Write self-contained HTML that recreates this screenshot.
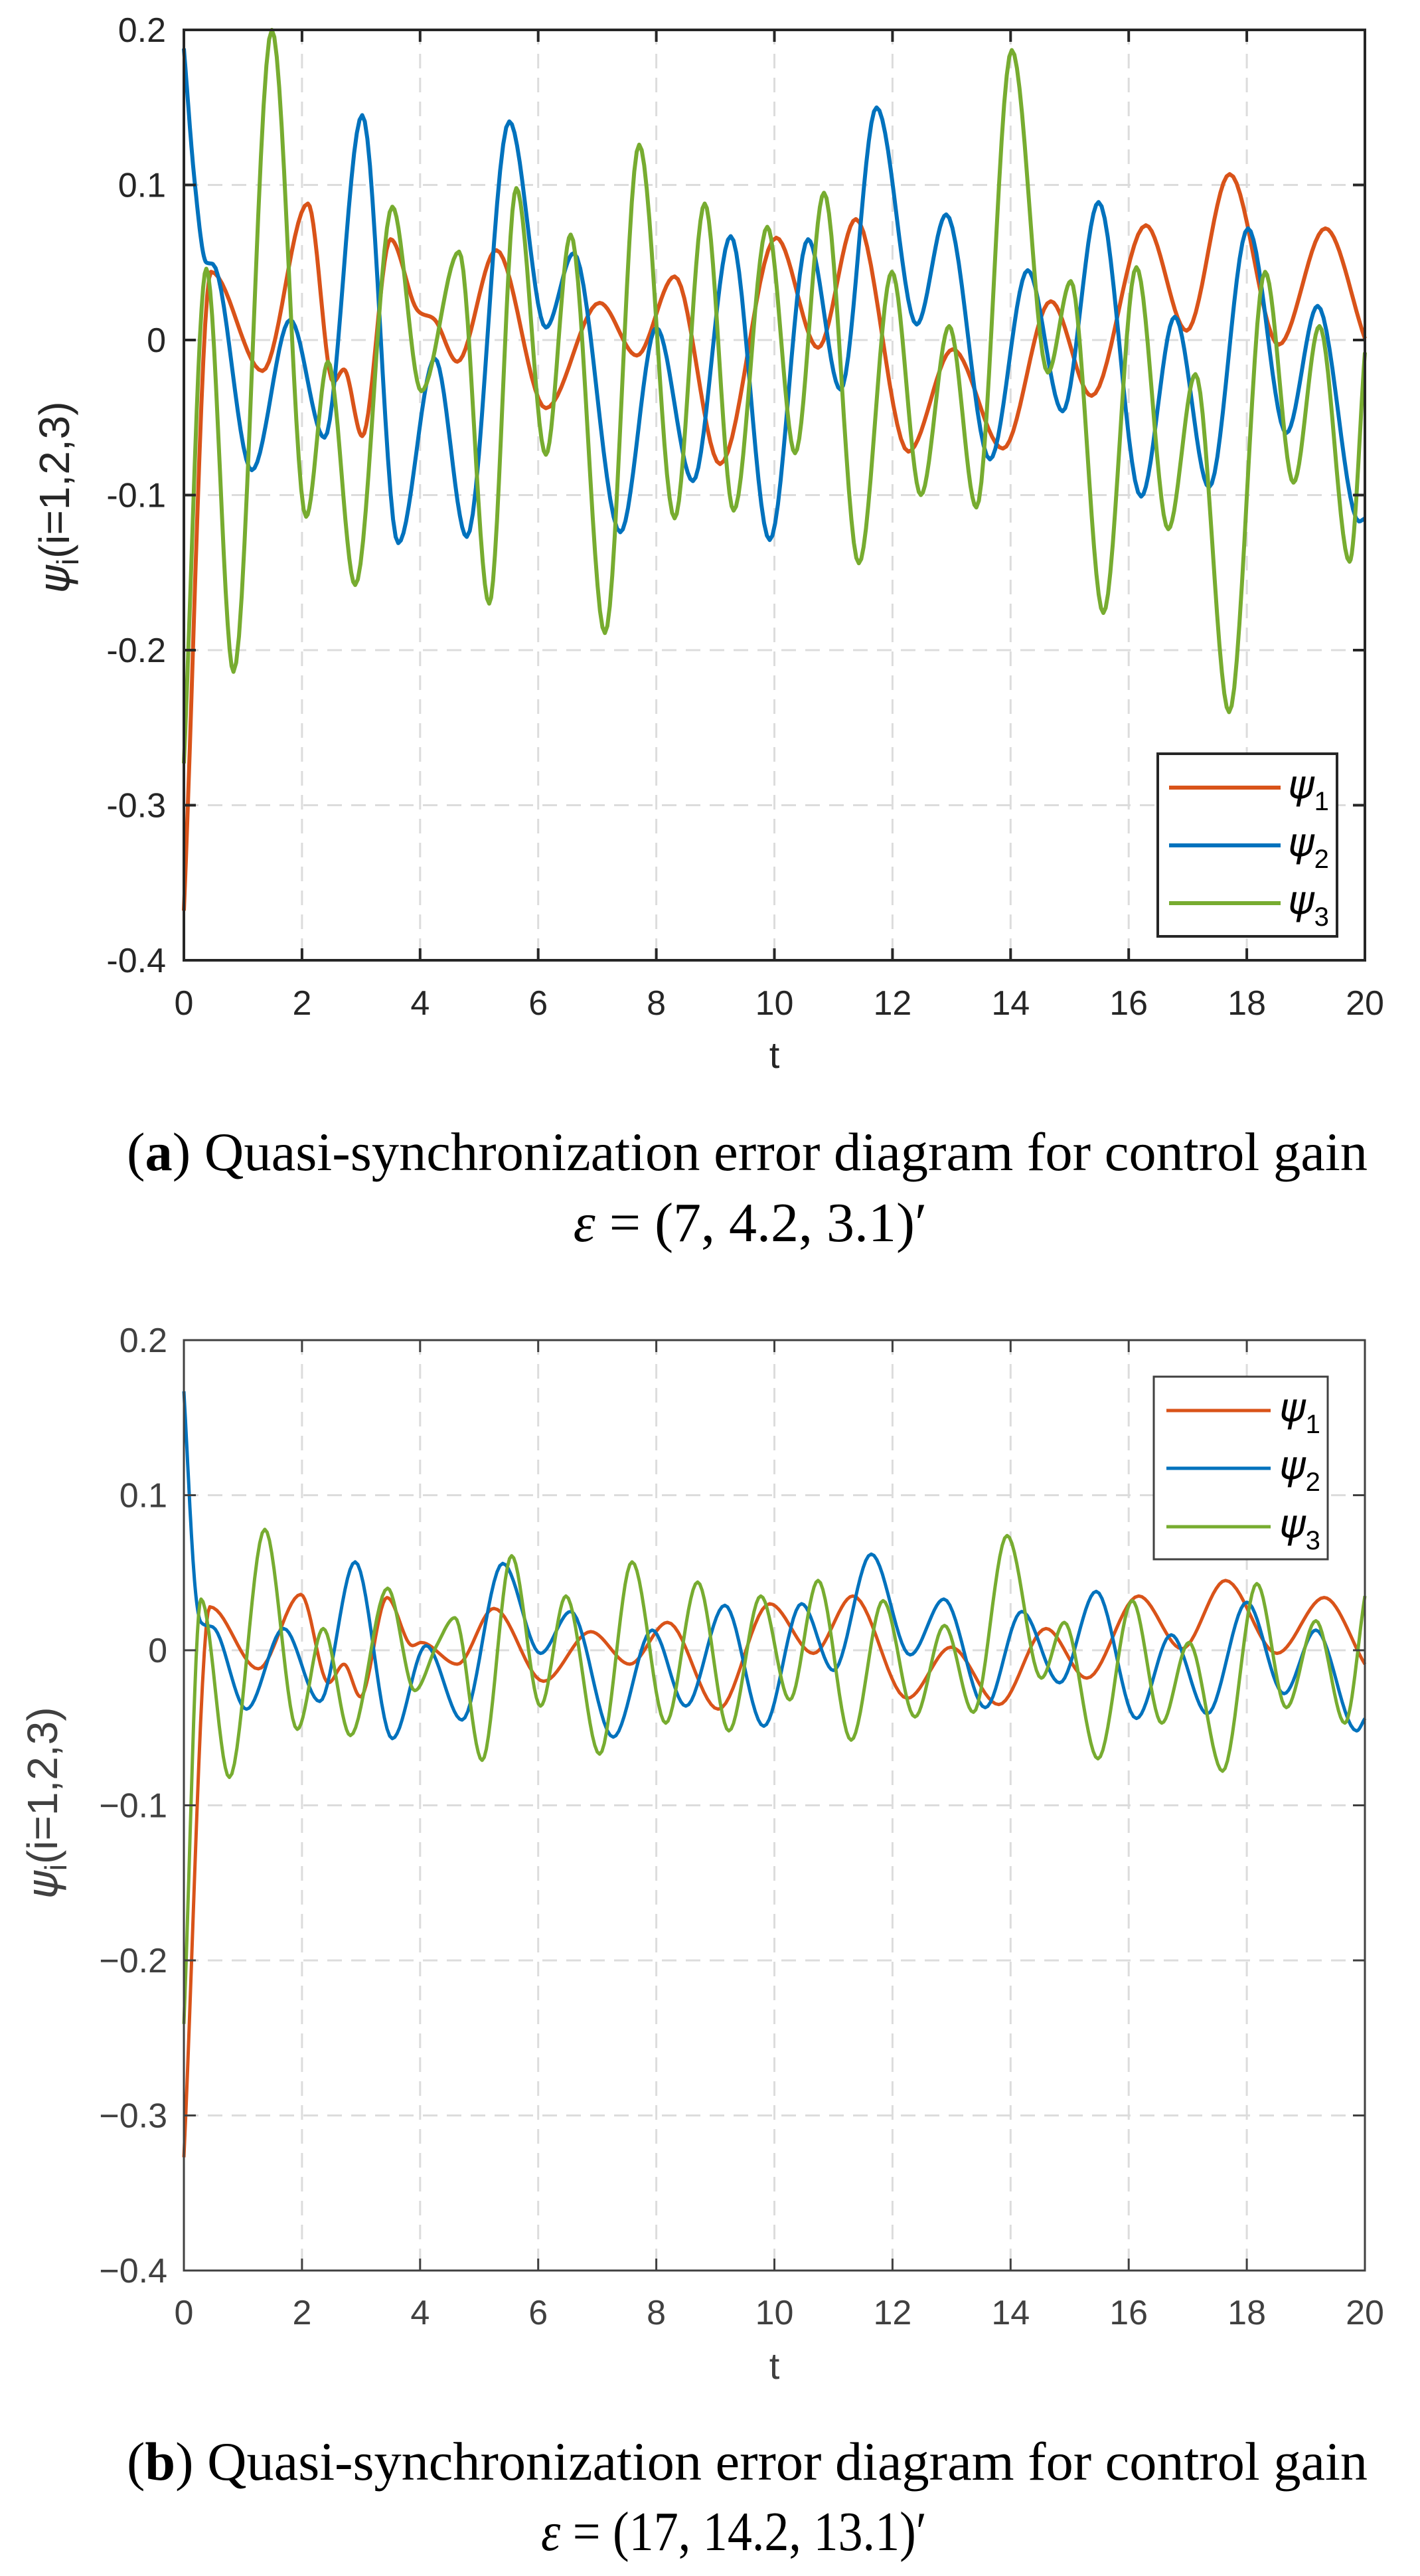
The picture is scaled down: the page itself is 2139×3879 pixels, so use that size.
<!DOCTYPE html>
<html><head><meta charset="utf-8"><style>
html,body{margin:0;padding:0;background:#fff;}
svg{display:block;}
</style></head><body>
<svg id="fig" width="2139" height="3879" viewBox="0 0 2139 3879" xmlns="http://www.w3.org/2000/svg">
<g id="plotA"></g>
<g id="plotB"></g>
<text x="191" y="1762" textLength="1869" lengthAdjust="spacingAndGlyphs" font-family="Liberation Serif, serif" font-size="82" fill="#000">(<tspan font-weight="bold">a</tspan>) Quasi-synchronization error diagram for control gain</text>
<text x="1130" y="1869" text-anchor="middle" font-family="Liberation Serif, serif" font-size="84" fill="#000"><tspan font-style="italic">ε</tspan> = (7, 4.2, 3.1)′</text>
<text x="191" y="3734" textLength="1869" lengthAdjust="spacingAndGlyphs" font-family="Liberation Serif, serif" font-size="82" fill="#000">(<tspan font-weight="bold">b</tspan>) Quasi-synchronization error diagram for control gain</text>
<text x="815" y="3840" textLength="581" lengthAdjust="spacingAndGlyphs" font-family="Liberation Serif, serif" font-size="84" fill="#000"><tspan font-style="italic">ε</tspan> = (17, 14.2, 13.1)′</text>
</svg>
<script>
const xTicks = [0,2,4,6,8,10,12,14,16,18,20];
const yTicks = [0.2,0.1,0,-0.1,-0.2,-0.3,-0.4];
const yTickLabelsA = ['0.2','0.1','0','-0.1','-0.2','-0.3','-0.4'];
const yTickLabelsB = ['0.2','0.1','0','\u22120.1','\u22120.2','\u22120.3','\u22120.4'];
const seriesNames = ['ψ1','ψ2','ψ3'];
// Plot A: [t, value] pairs
const a1 = [[0,-0.368],[0.46,0.044],[1.33,-0.02],[2.1,0.088],[2.53,-0.027],[2.71,-0.019],[3.02,-0.062],[3.5,0.065],[3.94,0.02],[4.25,0.013],[4.63,-0.014],[5.29,0.058],[6.13,-0.044],[7.04,0.024],[7.67,-0.01],[8.31,0.041],[9.08,-0.08],[10.03,0.066],[10.74,-0.005],[11.38,0.078],[12.27,-0.072],[13.02,-0.006],[13.87,-0.07],[14.68,0.025],[15.37,-0.036],[16.29,0.074],[16.98,0.006],[17.71,0.107],[18.54,-0.003],[19.33,0.072],[20,0.001]];
const a2 = [[0,0.188],[0.18,0.103],[0.38,0.05],[0.49,0.049],[1.15,-0.084],[1.8,0.013],[2.38,-0.063],[3.02,0.145],[3.63,-0.131],[4.25,-0.012],[4.79,-0.127],[5.51,0.141],[6.13,0.008],[6.6,0.056],[7.39,-0.124],[8.0,0.008],[8.62,-0.091],[9.26,0.067],[9.92,-0.129],[10.57,0.065],[11.12,-0.032],[11.73,0.15],[12.41,0.01],[12.91,0.081],[13.65,-0.077],[14.29,0.045],[14.88,-0.046],[15.49,0.089],[16.21,-0.101],[16.78,0.015],[17.36,-0.095],[18.02,0.072],[18.67,-0.06],[19.2,0.022],[19.9,-0.117],[20,-0.115]];
const a3 = [[0,-0.273],[0.38,0.046],[0.84,-0.214],[1.49,0.2],[2.07,-0.114],[2.44,-0.014],[2.9,-0.158],[3.53,0.086],[4.02,-0.033],[4.66,0.057],[5.17,-0.17],[5.63,0.098],[6.13,-0.074],[6.55,0.068],[7.13,-0.189],[7.71,0.126],[8.31,-0.115],[8.82,0.088],[9.31,-0.11],[9.88,0.073],[10.35,-0.073],[10.84,0.095],[11.43,-0.144],[11.99,0.044],[12.48,-0.1],[12.96,0.009],[13.42,-0.108],[14.02,0.187],[14.63,-0.021],[15.02,0.038],[15.57,-0.176],[16.13,0.047],[16.67,-0.122],[17.13,-0.022],[17.7,-0.24],[18.31,0.044],[18.79,-0.092],[19.23,0.009],[19.74,-0.143],[20,-0.008]];
// Plot B
const b1 = [[0,-0.327],[0.44,0.028],[1.26,-0.012],[1.98,0.036],[2.45,-0.021],[2.71,-0.009],[2.99,-0.03],[3.44,0.034],[3.87,0.003],[4.02,0.005],[4.63,-0.009],[5.25,0.027],[6.09,-0.02],[6.89,0.012],[7.55,-0.009],[8.19,0.018],[9.05,-0.038],[9.92,0.03],[10.66,-0.002],[11.33,0.035],[12.25,-0.031],[12.99,0.002],[13.8,-0.035],[14.6,0.014],[15.29,-0.018],[16.17,0.035],[16.9,0.001],[17.64,0.045],[18.51,-0.002],[19.31,0.034],[20,-0.009]];
const b2 = [[0,0.167],[0.18,0.045],[0.29,0.018],[0.49,0.015],[1.06,-0.038],[1.69,0.014],[2.3,-0.033],[2.9,0.057],[3.53,-0.057],[4.1,0.003],[4.71,-0.045],[5.4,0.056],[6.04,-0.002],[6.55,0.025],[7.27,-0.056],[7.93,0.013],[8.5,-0.036],[9.16,0.029],[9.82,-0.049],[10.46,0.03],[11.0,-0.013],[11.64,0.062],[12.3,-0.003],[12.87,0.033],[13.57,-0.037],[14.19,0.025],[14.83,-0.021],[15.45,0.038],[16.13,-0.044],[16.72,0.01],[17.33,-0.041],[18.0,0.031],[18.63,-0.028],[19.17,0.013],[19.86,-0.052],[20,-0.044]];
const b3 = [[0,-0.241],[0.29,0.033],[0.77,-0.082],[1.37,0.078],[1.92,-0.051],[2.36,0.014],[2.82,-0.055],[3.45,0.04],[3.91,-0.026],[4.28,0.003],[4.59,0.021],[5.05,-0.071],[5.55,0.061],[6.04,-0.036],[6.47,0.035],[7.04,-0.067],[7.59,0.057],[8.16,-0.047],[8.7,0.044],[9.23,-0.052],[9.77,0.035],[10.26,-0.032],[10.74,0.045],[11.3,-0.058],[11.84,0.032],[12.38,-0.043],[12.88,0.016],[13.37,-0.04],[13.94,0.074],[14.52,-0.018],[14.91,0.018],[15.48,-0.07],[16.06,0.032],[16.56,-0.047],[17.02,0.005],[17.59,-0.078],[18.17,0.043],[18.67,-0.037],[19.17,0.019],[19.66,-0.047],[20,0.035]];

const NS='http://www.w3.org/2000/svg';
const colors=['#D95319','#0072BD','#77AC30'];
function mk(tag,attrs,parent){const e=document.createElementNS(NS,tag);for(const k in attrs)e.setAttribute(k,attrs[k]);parent.appendChild(e);return e;}
function monotone(pts){
  const n=pts.length,dx=[],m=[],s=[];
  for(let i=0;i<n-1;i++){dx[i]=pts[i+1][0]-pts[i][0];s[i]=(pts[i+1][1]-pts[i][1])/dx[i];}
  m[0]=s[0];m[n-1]=s[n-2];
  for(let i=1;i<n-1;i++){m[i]=(s[i-1]*s[i]<=0)?0:(s[i-1]+s[i])/2;}
  for(let i=0;i<n-1;i++){if(s[i]===0){m[i]=0;m[i+1]=0;continue;}const a=m[i]/s[i],b=m[i+1]/s[i],h=a*a+b*b;if(h>9){const t=3/Math.sqrt(h);m[i]=t*a*s[i];m[i+1]=t*b*s[i];}}
  const out=[];
  for(let i=0;i<n-1;i++){const N=14;for(let k=0;k<N;k++){const t=k/N,h=dx[i];const h00=2*t*t*t-3*t*t+1,h10=t*t*t-2*t*t+t,h01=-2*t*t*t+3*t*t,h11=t*t*t-t*t;out.push([pts[i][0]+t*h,h00*pts[i][1]+h10*h*m[i]+h01*pts[i+1][1]+h11*h*m[i+1]]);}}
  out.push(pts[n-1]);return out;
}
function drawPlot(g,cfg){
  const L=277,R=2056,T=cfg.top,B=cfg.top+1401;
  const xs=t=>L+(t-0)/20*(R-L);
  const ys=v=>T+(0.2-v)/0.6*(B-T);
  const txt=cfg.txt;
  xTicks.forEach((t,i)=>{if(i>0&&i<xTicks.length-1){const l=mk('line',{x1:xs(t),x2:xs(t),y1:T,y2:B,stroke:'#dcdcdc','stroke-width':3,'stroke-dasharray':'22,14'},g);}});
  yTicks.forEach((v,i)=>{if(i>0&&i<yTicks.length-1){const l=mk('line',{x1:L,x2:R,y1:ys(v),y2:ys(v),stroke:'#dcdcdc','stroke-width':3,'stroke-dasharray':'22,14'},g);}});
  cfg.series.forEach((pts,si)=>{
    const sm=monotone(pts);
    const d=sm.map((p,i)=>(i?'L':'M')+xs(p[0]).toFixed(1)+','+ys(p[1]).toFixed(1)).join('');
    const p=mk('path',{d:d,fill:'none',stroke:colors[si],'stroke-width':cfg.lw,'stroke-linejoin':'round'},g);
    
    
  });
  const box=mk('rect',{x:L,y:T,width:R-L,height:B-T,fill:'none',stroke:cfg.axc,'stroke-width':cfg.bw},g);
  
  
  xTicks.forEach(t=>{
    mk('line',{x1:xs(t),x2:xs(t),y1:B,y2:B-18,stroke:cfg.axc,'stroke-width':cfg.bw},g);
    mk('line',{x1:xs(t),x2:xs(t),y1:T,y2:T+18,stroke:cfg.axc,'stroke-width':cfg.bw},g);
    const tx=mk('text',{x:xs(t),y:cfg.xlabY,'text-anchor':'middle','font-family':'Liberation Sans, sans-serif','font-size':52,fill:txt},g);
    tx.textContent=String(t);
    
    
  });
  yTicks.forEach((v,i)=>{
    mk('line',{x1:L,x2:L+18,y1:ys(v),y2:ys(v),stroke:cfg.axc,'stroke-width':cfg.bw},g);
    mk('line',{x1:R,x2:R-18,y1:ys(v),y2:ys(v),stroke:cfg.axc,'stroke-width':cfg.bw},g);
    const tx=mk('text',{x:cfg.ylabR,y:ys(v)+18,'text-anchor':'end','font-family':'Liberation Sans, sans-serif','font-size':52,fill:txt},g);
    tx.textContent=cfg.ylabels[i];
    
    
  });
  const xt=mk('text',{x:(L+R)/2,y:cfg.xtitleY,'text-anchor':'middle','font-family':'Liberation Sans, sans-serif','font-size':56,fill:txt},g);
  xt.textContent='t';
  
  
  const yt=mk('text',{x:0,y:0,'text-anchor':'middle','font-family':'Liberation Sans, sans-serif','font-size':64,fill:txt,transform:'translate('+cfg.ytitleX+','+cfg.ytitleY+') rotate(-90)'},g);
  yt.innerHTML='<tspan font-family="DejaVu Sans, sans-serif" font-style="italic">ψ</tspan><tspan font-size="46" dy="14">i</tspan><tspan dy="-14">(i=1,2,3)</tspan>';
  
  
  const lg=cfg.leg;
  const lb=mk('rect',{x:lg.x,y:lg.y,width:lg.w,height:lg.h,fill:'#fff',stroke:cfg.axc,'stroke-width':cfg.bw},g);
  
  
  seriesNames.forEach((nm,i)=>{
    const yy=lg.rows[i];
    const ln=mk('line',{x1:lg.l1,x2:lg.l2,y1:yy,y2:yy,stroke:colors[i],'stroke-width':cfg.lw},g);
    
    
    const t=mk('text',{x:lg.tx,y:yy+16,'font-family':'DejaVu Sans, sans-serif','font-size':60,fill:'#000'},g);
    t.innerHTML='<tspan font-style="italic">ψ</tspan><tspan font-family="Liberation Sans, sans-serif" font-size="40" dy="18">'+(i+1)+'</tspan>';
    
    
  });
}
drawPlot(document.getElementById('plotA'),{top:45,series:[a1,a2,a3],lw:6,bw:4,axc:'#262626',txt:'#262626',ylabels:yTickLabelsA,xlabY:1528,ylabR:250,xtitleY:1608,ytitleX:104,ytitleY:749,
  leg:{x:1744,y:1135,w:270,h:275,l1:1761,l2:1929,rows:[1186,1273,1360],tx:1940}});
drawPlot(document.getElementById('plotB'),{top:2018,series:[b1,b2,b3],lw:5,bw:3,axc:'#404040',txt:'#404040',ylabels:yTickLabelsB,xlabY:3500,ylabR:252,xtitleY:3582,ytitleX:86,ytitleY:2715,
  leg:{x:1738,y:2073,w:262,h:275,l1:1757,l2:1914,rows:[2124,2211,2299],tx:1927}});
</script>
</body></html>
